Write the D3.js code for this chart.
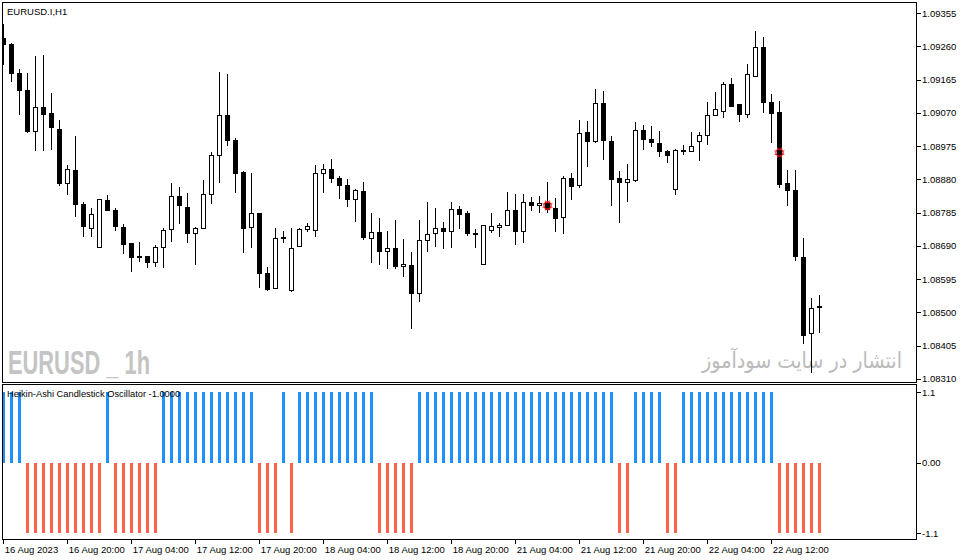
<!DOCTYPE html>
<html><head><meta charset="utf-8">
<script src="https://cdn.jsdelivr.net/npm/d3@7"></script>
<style>body{margin:0;background:#fff;} svg{display:block;}</style>
</head><body>
<svg id="c" width="962" height="560"></svg>
<script>
const opens = [1.09281,1.09265,1.09183,1.09135,1.09016,1.09085,1.09068,1.09023,1.08868,1.08905,
1.08809,1.08740,1.08685,1.08818,1.08792,1.08743,1.08697,1.08659,1.08659,1.08643,
1.08685,1.08737,1.08832,1.08800,1.08725,1.08740,1.08837,1.08948,1.09061,1.08992,
1.08898,1.08741,1.08783,1.08611,1.08568,1.08712,1.08561,1.08689,1.08737,1.08735,
1.08897,1.08908,1.08883,1.08863,1.08823,1.08846,1.08711,1.08728,1.08675,1.08683,
1.08631,1.08634,1.08554,1.08705,1.08725,1.08740,1.08731,1.08794,1.08783,1.08725,
1.08637,1.08734,1.08743,1.08748,1.08791,1.08730,1.08814,1.08804,1.08811,1.08797,
1.08771,1.08881,1.08861,1.09014,1.08987,1.09097,1.08988,1.08883,1.08870,1.08876,
1.09018,1.08994,1.08983,1.08958,1.08851,1.08961,1.08959,1.08989,1.09004,1.09063,
1.09073,1.09152,1.09095,1.09065,1.09175,1.09257,1.09100,1.09071,1.08868,1.08849,
1.08657,1.08440,1.08514];
const highs = [1.09325,1.09270,1.09194,1.09183,1.09232,1.09235,1.09126,1.09049,1.08921,1.09003,
1.08815,1.08797,1.08823,1.08835,1.08797,1.08752,1.08699,1.08702,1.08661,1.08691,
1.08740,1.08868,1.08859,1.08841,1.08744,1.08878,1.08959,1.09187,1.09181,1.08999,
1.08903,1.08898,1.08785,1.08628,1.08740,1.08733,1.08740,1.08740,1.08754,1.08921,
1.08925,1.08937,1.08889,1.08881,1.08852,1.08873,1.08783,1.08768,1.08732,1.08765,
1.08708,1.08671,1.08763,1.08815,1.08798,1.08758,1.08815,1.08803,1.08789,1.08737,
1.08749,1.08785,1.08754,1.08844,1.08838,1.08838,1.08830,1.08832,1.08873,1.08826,
1.08889,1.08898,1.09049,1.09046,1.09138,1.09132,1.09003,1.08903,1.08924,1.09043,
1.09035,1.09032,1.09018,1.08965,1.08966,1.08978,1.09016,1.09016,1.09101,1.09130,
1.09159,1.09170,1.09096,1.09209,1.09303,1.09287,1.09123,1.09103,1.08906,1.08906,
1.08711,1.08540,1.08549];
const lows = [1.09206,1.09159,1.09063,1.09012,1.08961,1.08961,1.08964,1.08861,1.08835,1.08773,
1.08714,1.08714,1.08684,1.08788,1.08733,1.08666,1.08616,1.08643,1.08627,1.08630,
1.08627,1.08700,1.08751,1.08697,1.08635,1.08738,1.08809,1.08868,1.08975,1.08841,
1.08668,1.08685,1.08570,1.08561,1.08566,1.08697,1.08559,1.08687,1.08728,1.08716,
1.08840,1.08868,1.08823,1.08801,1.08759,1.08706,1.08641,1.08635,1.08625,1.08623,
1.08601,1.08451,1.08530,1.08671,1.08687,1.08680,1.08684,1.08737,1.08719,1.08685,
1.08636,1.08727,1.08714,1.08746,1.08692,1.08699,1.08789,1.08783,1.08784,1.08728,
1.08723,1.08821,1.08854,1.08916,1.08983,1.08935,1.08804,1.08754,1.08816,1.08873,
1.08963,1.08973,1.08944,1.08927,1.08835,1.08949,1.08957,1.08933,1.08978,1.09061,
1.09056,1.09087,1.09044,1.09054,1.09173,1.09068,1.08983,1.08854,1.08804,1.08647,
1.08409,1.08327,1.08441];
const closes = [1.09265,1.09183,1.09133,1.09016,1.09085,1.09064,1.09027,1.08868,1.08908,1.08808,
1.08744,1.08778,1.08822,1.08790,1.08744,1.08694,1.08657,1.08658,1.08641,1.08685,
1.08735,1.08832,1.08804,1.08725,1.08740,1.08837,1.08949,1.09063,1.08990,1.08897,
1.08740,1.08781,1.08611,1.08565,1.08711,1.08713,1.08683,1.08737,1.08746,1.08897,
1.08908,1.08883,1.08861,1.08823,1.08849,1.08713,1.08728,1.08673,1.08683,1.08630,
1.08637,1.08554,1.08705,1.08723,1.08740,1.08731,1.08794,1.08780,1.08724,1.08724,
1.08748,1.08744,1.08749,1.08791,1.08730,1.08814,1.08804,1.08811,1.08794,1.08768,
1.08883,1.08859,1.09011,1.08987,1.09097,1.08990,1.08878,1.08870,1.08878,1.09018,
1.08994,1.08984,1.08959,1.08947,1.08963,1.08962,1.08975,1.09006,1.09063,1.09078,
1.09152,1.09089,1.09065,1.09178,1.09257,1.09099,1.09068,1.08865,1.08847,1.08659,
1.08435,1.08511,1.08517];
const oscValues = [1,1,1,-1,-1,-1,-1,-1,-1,-1,
-1,-1,-1,1,-1,-1,-1,-1,-1,-1,
1,1,1,1,1,1,1,1,1,1,
1,1,-1,-1,-1,1,-1,1,1,1,
1,1,1,1,1,1,1,-1,-1,-1,
-1,-1,1,1,1,1,1,1,1,1,
1,1,1,1,1,1,1,1,1,1,
1,1,1,1,1,1,1,-1,-1,1,
1,1,1,-1,-1,1,1,1,1,1,
1,1,1,1,1,1,1,-1,-1,-1,
-1,-1,-1];
const priceTicks = [1.09355,1.09260,1.09165,1.09070,1.08975,1.08880,1.08785,1.08690,1.08595,1.08500,1.08405,1.08310];
const oscTicks = [1,0,-1];
const oscTickLabels = ["1.1","0.00","-1.1"];
const timeTickIndex = [0,8,16,24,32,40,48,56,64,72,80,88,96];
const timeLabels = ["16 Aug 2023","16 Aug 20:00","17 Aug 04:00","17 Aug 12:00","17 Aug 20:00","18 Aug 04:00","18 Aug 12:00","18 Aug 20:00","21 Aug 04:00","21 Aug 12:00","21 Aug 20:00","22 Aug 04:00","22 Aug 12:00"];
const signalIndex = [68, 97];
const signalPrice = [1.08805, 1.08956];
const chartTitle = "EURUSD.I,H1";
const oscTitle = "Heikin-Ashi Candlestick Oscillator -1.0000";
const watermarkLeft = "EURUSD _ 1h";
const watermarkRight = "انتشار در سایت سودآموز";

const svg = d3.select("#c");
const FONT = "'Liberation Sans', Arial, sans-serif";
const PL = 2.5, PR = 916.5, MT = 2.5, MB = 382.5, OT = 384.5, OB = 539.5;

const x = d3.scaleLinear().domain([0, 102]).range([3.3, 819.3]);
const y = d3.scaleLinear().domain([1.08310, 1.09355]).range([378.75, 13]);
const yo = d3.scaleLinear().domain([-1, 1]).range([533, 392]);

svg.append("defs").append("clipPath").attr("id","mainclip")
  .append("rect").attr("x",PL+0.5).attr("y",MT+0.5).attr("width",PR-PL-1).attr("height",MB-MT-1);

// watermarks
svg.append("text").attr("x", 8).attr("y", 374)
  .attr("font-family", "'Liberation Sans Narrow','Liberation Sans',Arial,sans-serif")
  .attr("font-weight","bold").attr("font-size", 33).attr("fill","#c4c4c4")
  .attr("textLength", 142).attr("lengthAdjust","spacingAndGlyphs")
  .text(watermarkLeft);
svg.append("text").attr("x", 802).attr("y", 368)
  .attr("font-family", "'DejaVu Sans', sans-serif")
  .attr("font-size", 22).attr("fill","#bbbbbb").attr("text-anchor","middle")
  .attr("textLength", 200).attr("lengthAdjust","spacingAndGlyphs")
  .text(watermarkRight);

// candles
const g = svg.append("g").attr("clip-path","url(#mainclip)").attr("shape-rendering","crispEdges");
const idx = d3.range(opens.length);
g.selectAll("line.wick").data(idx).join("line")
  .attr("x1", i => Math.round(x(i)) + 0.5).attr("x2", i => Math.round(x(i)) + 0.5)
  .attr("y1", i => y(highs[i])).attr("y2", i => y(lows[i]))
  .attr("stroke","#000").attr("stroke-width",1);
g.selectAll("rect.body").data(idx).join("rect")
  .attr("x", i => Math.round(x(i)) - 1.5)
  .attr("width", 4)
  .attr("y", i => y(Math.max(opens[i], closes[i])))
  .attr("height", i => Math.max(1, Math.abs(y(opens[i]) - y(closes[i]))))
  .attr("fill", i => closes[i] >= opens[i] ? "#fff" : "#000")
  .attr("stroke","#000").attr("stroke-width",1);

// signal markers
const sg = svg.append("g");
signalIndex.forEach((si, k) => {
  const cx = Math.round(x(si)) + 0.5, cy = y(signalPrice[k]);
  const m = sg.append("g").attr("transform", `translate(${cx},${cy})`);
  d3.range(8).forEach(a => {
    const ang = a * Math.PI / 4 + Math.PI / 8;
    m.append("line").attr("x1", Math.cos(ang)*3.2).attr("y1", Math.sin(ang)*3.2)
      .attr("x2", Math.cos(ang)*5.4).attr("y2", Math.sin(ang)*5.4)
      .attr("stroke","#ff3030").attr("stroke-width",1);
  });
  m.append("circle").attr("r", 3.6).attr("fill","none").attr("stroke","#ff0000").attr("stroke-width",1.1);
});

// oscillator bars
svg.append("g").attr("shape-rendering","crispEdges").selectAll("rect").data(idx).join("rect")
  .attr("x", i => Math.round(x(i)) - 1)
  .attr("width", 3)
  .attr("y", i => oscValues[i] > 0 ? yo(oscValues[i]) : yo(0))
  .attr("height", i => Math.abs(yo(oscValues[i]) - yo(0)))
  .attr("fill", i => oscValues[i] > 0 ? "#1e90ff" : "#ff6347");

// panel borders
svg.append("rect").attr("x",PL).attr("y",MT).attr("width",PR-PL).attr("height",MB-MT)
  .attr("fill","none").attr("stroke","#000").attr("shape-rendering","crispEdges");
svg.append("rect").attr("x",PL).attr("y",OT).attr("width",PR-PL).attr("height",OB-OT)
  .attr("fill","none").attr("stroke","#000").attr("shape-rendering","crispEdges");

// titles
svg.append("text").attr("x",7).attr("y",15).attr("font-family",FONT).attr("font-size",9.5).attr("fill","#000").text(chartTitle);
svg.append("text").attr("x",7).attr("y",397).attr("font-family",FONT).attr("font-size",9.3).attr("fill","#000").text(oscTitle);

// axes
function styleAxis(sel){
  sel.select(".domain").remove();
  sel.selectAll("text").attr("font-family",FONT).attr("font-size",9.5).attr("fill","#000");
  sel.selectAll("line").attr("stroke","#000").attr("shape-rendering","crispEdges");
}
svg.append("g").attr("transform",`translate(${PR},0)`)
  .call(d3.axisRight(y).tickValues(priceTicks).tickFormat(d3.format(".5f")).tickSize(4).tickPadding(1.5))
  .call(styleAxis);
svg.append("g").attr("transform",`translate(${PR},0)`)
  .call(d3.axisRight(yo).tickValues(oscTicks).tickFormat((d,i)=>oscTickLabels[i]).tickSize(4).tickPadding(1.5))
  .call(styleAxis);
const bx = svg.append("g").attr("transform",`translate(0,${OB})`)
  .call(d3.axisBottom(x).tickValues(timeTickIndex).tickFormat((d,i)=>timeLabels[i]).tickSize(4).tickPadding(3))
  .call(styleAxis);
bx.selectAll("text").attr("text-anchor","start").attr("dx", 1);
</script>
</body></html>
